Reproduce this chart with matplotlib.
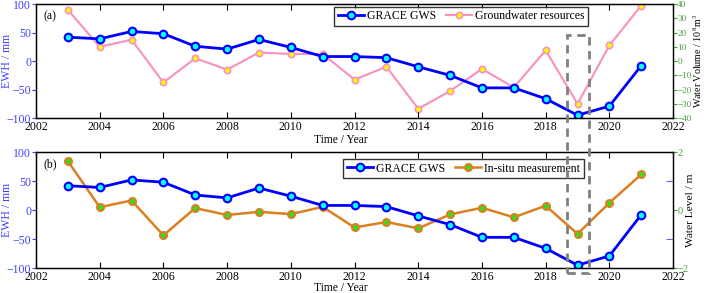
import matplotlib
matplotlib.use('Agg')
from matplotlib import pyplot as plt
from matplotlib.patches import Rectangle

years = list(range(2003, 2022))
grace_gws = [42, 39, 52, 48, 26, 21, 38, 24, 8, 8, 6, -10, -25, -47, -47, -66, -95, -79, -8]
gw_resources = [36, 10, 15, -15, 2, -6, 6, 5, 5, -13, -4, -33.5, -21, -5.5, -18.5, 7.5, -30, 11, 39]
insitu_level = [1.69, 0.10, 0.33, -0.87, 0.07, -0.17, -0.06, -0.14, 0.11, -0.60, -0.41, -0.63,
                -0.15, 0.08, -0.25, 0.15, -0.82, 0.25, 1.23]
xticks = list(range(2002, 2023, 2))

plt.rcParams['font.family'] = ['Liberation Serif', 'DejaVu Serif']
plt.rcParams['font.size'] = 8.5
plt.rcParams['mathtext.fontset'] = 'stix'

blue_ax = '#4040FF'
green_ax = '#3FA535'
pink = '#F990C0'
orange = '#DB8020'

fig = plt.figure(figsize=(7.04, 2.93), dpi=100)
ax1 = fig.add_axes([0.0511, 0.597, 0.905, 0.389])
ax2 = fig.add_axes([0.0511, 0.085, 0.905, 0.396])


def style_left(ax, xlab_y):
    ax.set_xlim(2002, 2022)
    ax.set_ylim(-100, 100)
    ax.set_xticks(xticks)
    ax.set_yticks([-100, -50, 0, 50, 100])
    ax.tick_params(axis='x', direction='in', top=True, length=4, pad=2)
    ax.tick_params(axis='y', direction='out', colors=blue_ax, length=3, pad=0.5)
    ax.set_ylabel('EWH / mm', color=blue_ax, va='center')
    ax.yaxis.set_label_coords(-0.045, 0.5)
    ax.set_xlabel('Time / Year', va='top', fontsize=8.3)
    ax.xaxis.set_label_coords(0.478, xlab_y)
    for s in ax.spines.values():
        s.set_linewidth(1.0)


style_left(ax1, -0.14)
style_left(ax2, -0.122)

# (a)
l1, = ax1.plot(years, grace_gws, color='#0000FF', lw=2, marker='o', ms=5.5,
               mfc='#00FFFF', mec='#0000FF', mew=1.5, label='GRACE GWS')
ax1r = ax1.twinx()
l2, = ax1r.plot(years, gw_resources, color=pink, lw=1.5, marker='o', ms=4.5,
                mfc='#FFFF00', mec=pink, mew=1.2, label='Groundwater resources')
ax1r.set_ylim(-40, 40)
ax1r.set_yticks(range(-40, 41, 10))
ax1r.tick_params(axis='y', direction='out', colors=green_ax, length=3, pad=0, labelsize=6.6)
ax1r.spines['right'].set_color(green_ax)
ax1r.set_ylabel('Water Volume / 10$^8$m$^3$', va='center', fontsize=7.2)
ax1r.yaxis.set_label_coords(1.038, 0.5)
ax1.set_zorder(ax1r.get_zorder() + 1)
ax1.patch.set_visible(False)
ax1.text(0.012, 0.95, '(a)', transform=ax1.transAxes, va='top', ha='left')
ax1.legend(handles=[l1, l2], loc='upper left', bbox_to_anchor=(0.468, 0.975),
           ncol=2, frameon=True, fancybox=False, edgecolor='black',
           handlelength=2.2, handletextpad=0.3, columnspacing=0.8,
           borderpad=0.3, borderaxespad=0).get_frame().set_linewidth(1.0)

# (b)
l3, = ax2.plot(years, grace_gws, color='#0000FF', lw=2, marker='o', ms=5.5,
               mfc='#00FFFF', mec='#0000FF', mew=1.5, label='GRACE GWS')
ax2r = ax2.twinx()
l4, = ax2r.plot(years, insitu_level, color=orange, lw=1.8, marker='o', ms=5,
                mfc='#33DD22', mec=orange, mew=1.5, label='In-situ measurement')
ax2r.set_ylim(-2, 2)
ax2r.set_yticks([-2, 0, 2])
ax2r.set_yticks([-1, 1], minor=True)
ax2r.tick_params(axis='y', which='major', direction='out', colors=green_ax, length=3, pad=0.5,
                 labelsize=7.5)
ax2r.tick_params(axis='y', which='minor', direction='in', color=blue_ax, length=5)
ax2r.spines['right'].set_color(green_ax)
ax2r.set_ylabel('Water Level / m', va='center', fontsize=8.2)
ax2r.yaxis.set_label_coords(1.028, 0.5)
ax2.set_zorder(ax2r.get_zorder() + 1)
ax2.patch.set_visible(False)
ax2.text(0.012, 0.95, '(b)', transform=ax2.transAxes, va='top', ha='left')
ax2.legend(handles=[l3, l4], loc='upper left', bbox_to_anchor=(0.482, 0.94),
           ncol=2, frameon=True, fancybox=False, edgecolor='black',
           handlelength=2.2, handletextpad=0.3, columnspacing=0.8,
           borderpad=0.3, borderaxespad=0).get_frame().set_linewidth(1.0)

# dashed box around 2019 spanning both panels
fig.patches.append(Rectangle((0.805, 0.068), 0.031, 0.813, transform=fig.transFigure,
                             fill=False, edgecolor='#808080', lw=2, ls=(0, (3, 2)),
                             zorder=10))

fig.savefig('out.png', dpi=100)
